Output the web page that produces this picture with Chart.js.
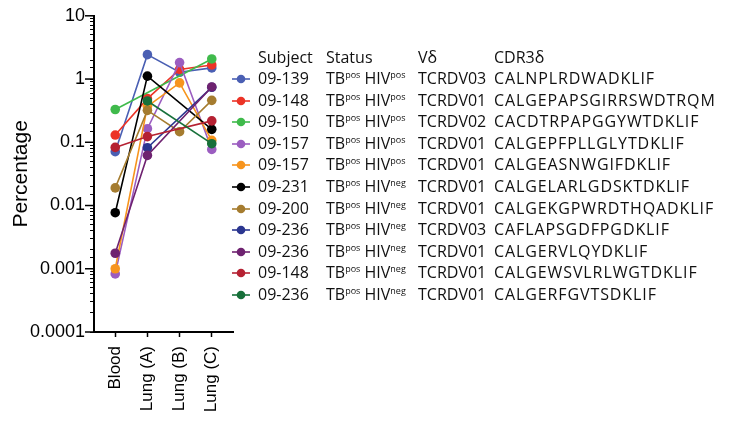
<!DOCTYPE html>
<html lang="en">
<head>
  <meta charset="UTF-8">
  <title>TCR delta clonotypes</title>
  <script src="https://cdn.jsdelivr.net/npm/chart.js"></script>
  <style>
    body { margin: 0; background: #fff; }
    .wrap { position: relative; width: 755px; height: 422px; }
    #chart { position: absolute; left: 0; top: 0; }
    #legend {
      position: absolute; left: 230px; top: 46.5px;
      font-family: "Open Sans", sans-serif; font-size: 16px; color: #111;
    }
    #legend .row { position: relative; height: 21.6px; line-height: 21.6px; white-space: nowrap; }
    #legend span.c { position: absolute; top: 0; }
    #legend span.cdr { letter-spacing: 0.9px; }
    #legend sup { font-size: 9px; vertical-align: 0; position: relative; top: -6px; }
    #legend svg { position: absolute; left: 0; top: 6px; }
  </style>
</head>
<body>
<div class="wrap">
  <canvas id="chart" width="755" height="422"></canvas>
  <div id="legend"></div>
</div>
<script>
  // categories and tick labels
  const categories = ['Blood', 'Lung (A)', 'Lung (B)', 'Lung (C)'];
  const yTickLabels = ['0.0001', '0.001', '0.01', '0.1', '1', '10'];

  // legend table columns
  const subjects = ['09-139', '09-148', '09-150', '09-157', '09-157', '09-231', '09-200', '09-236', '09-236', '09-148', '09-236'];
  const tbStatus = ['pos', 'pos', 'pos', 'pos', 'pos', 'pos', 'pos', 'pos', 'pos', 'pos', 'pos'];
  const hivStatus = ['pos', 'pos', 'pos', 'pos', 'pos', 'neg', 'neg', 'neg', 'neg', 'neg', 'neg'];
  const vDelta = ['TCRDV03', 'TCRDV01', 'TCRDV02', 'TCRDV01', 'TCRDV01', 'TCRDV01', 'TCRDV01', 'TCRDV03', 'TCRDV01', 'TCRDV01', 'TCRDV01'];
  const cdr3 = ['CALNPLRDWADKLIF', 'CALGEPAPSGIRRSWDTRQM', 'CACDTRPAPGGYWTDKLIF', 'CALGEPFPLLGLYTDKLIF',
    'CALGEASNWGIFDKLIF', 'CALGELARLGDSKTDKLIF', 'CALGEKGPWRDTHQADKLIF', 'CAFLAPSGDFPGDKLIF',
    'CALGERVLQYDKLIF', 'CALGEWSVLRLWGTDKLIF', 'CALGERFGVTSDKLIF'];

  // percentages per clone: Blood, Lung (A), Lung (B), Lung (C)
  const clone139 = [0.071, 2.43, 1.28, 1.5];
  const clone148a = [0.13, 0.49, 1.42, 1.67];
  const clone150 = [0.33, null, null, 2.08];
  const clone157a = [0.00083, 0.164, 1.82, 0.077];
  const clone157b = [0.001, 0.37, 0.87, 0.107];
  const clone231 = [0.0077, 1.11, null, 0.16];
  const clone200 = [0.019, 0.32, 0.147, 0.46];
  const clone236a = [null, 0.082, null, 0.74];
  const clone236b = [0.00176, 0.062, null, 0.75];
  const clone148b = [0.083, 0.123, null, 0.218];
  const clone236c = [null, 0.45, null, 0.095];
  const series = [clone139, clone148a, clone150, clone157a, clone157b, clone231, clone200, clone236a, clone236b, clone148b, clone236c];

  const colors = ['#4a5fb3', '#ec3326', '#3fba4b', '#9b5dc0', '#f7941d', '#000000', '#a57c2f', '#2b3690', '#6e2270', '#b52132', '#17703a'];

  const datasets = series.map((vals, i) => ({
    label: subjects[i],
    data: vals.map((v, j) => ({ x: j, y: v })),
    borderColor: colors[i],
    backgroundColor: colors[i],
    borderWidth: 1.6,
    pointRadius: 4.8,
    pointBorderWidth: 0,
    spanGaps: true,
    tension: 0,
    order: -i
  }));

  // longer marks for decade ticks on the log axis
  const majorTicks = {
    id: 'majorTicks',
    afterDraw(chart) {
      const s = chart.scales.y;
      const ctx = chart.ctx;
      ctx.save();
      ctx.strokeStyle = '#000';
      ctx.lineWidth = 1.5;
      s.ticks.forEach(t => {
        const e = Math.log10(t.value);
        if (Math.abs(e - Math.round(e)) < 1e-6) {
          const y = s.getPixelForValue(t.value);
          ctx.beginPath();
          ctx.moveTo(s.right - 9, y);
          ctx.lineTo(s.right, y);
          ctx.stroke();
        }
      });
      ctx.restore();
    }
  };

  new Chart(document.getElementById('chart'), {
    type: 'line',
    data: { datasets },
    plugins: [majorTicks],
    options: {
      responsive: false,
      animation: false,
      layout: { padding: { top: 12, right: 522, left: 0, bottom: 0 } },
      plugins: { legend: { display: false }, tooltip: { enabled: false } },
      scales: {
        x: {
          type: 'linear',
          min: -0.66,
          max: 3.66,
          afterFit: s => { s.height = 90; },
          afterBuildTicks: s => { s.ticks = categories.map((c, i) => ({ value: i })); },
          border: { color: '#000', width: 2 },
          grid: { drawOnChartArea: false, color: '#000', tickLength: 5, tickWidth: 1.5 },
          ticks: {
            color: '#000',
            font: { family: 'Liberation Sans, Arial', size: 17 },
            minRotation: 90, maxRotation: 90,
            padding: 9,
            callback: v => categories[v]
          }
        },
        y: {
          type: 'logarithmic',
          min: 0.0001,
          max: 10,
          afterFit: s => { s.width = 94; },
          border: { color: '#000', width: 2 },
          grid: { drawOnChartArea: false, color: '#000', tickLength: 4, tickWidth: 1 },
          title: {
            display: true,
            text: 'Percentage',
            color: '#000',
            font: { family: 'Liberation Sans, Arial', size: 21 },
            padding: { top: 9, bottom: 0 }
          },
          ticks: {
            color: '#000',
            autoSkip: false,
            font: { family: 'Liberation Sans, Arial', size: 18 },
            padding: 5,
            callback: v => {
              const e = Math.log10(v);
              if (Math.abs(e - Math.round(e)) > 1e-6) return '';
              return yTickLabels[Math.round(e) + 4];
            }
          }
        }
      }
    }
  });

  // legend table
  const legend = document.getElementById('legend');
  const cols = [28, 96, 188, 264];
  let html = '<div class="row">' +
    ['Subject', 'Status', 'V\u03b4', 'CDR3\u03b4'].map((h, k) => `<span class="c" style="left:${cols[k]}px">${h}</span>`).join('') +
    '</div>';
  subjects.forEach((s, i) => {
    html += '<div class="row">' +
      `<svg width="22" height="10"><line x1="2" y1="5" x2="20" y2="5" stroke="${colors[i]}" stroke-width="1.6"/><circle cx="11" cy="5" r="4.3" fill="${colors[i]}"/></svg>` +
      `<span class="c" style="left:${cols[0]}px">${s}</span>` +
      `<span class="c" style="left:${cols[1]}px">TB<sup>${tbStatus[i]}</sup> HIV<sup>${hivStatus[i]}</sup></span>` +
      `<span class="c" style="left:${cols[2]}px">${vDelta[i]}</span>` +
      `<span class="c cdr" style="left:${cols[3]}px">${cdr3[i]}</span>` +
      '</div>';
  });
  legend.innerHTML = html;
</script>
</body>
</html>
